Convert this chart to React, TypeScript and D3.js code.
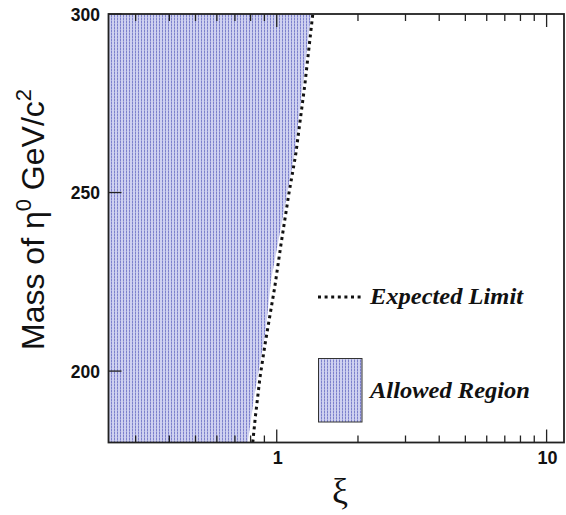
import React from "react";
import * as d3 from "d3";

// Expected limit curve (mass in GeV/c^2, xi)
const limitMass = [180, 187.1, 198.3, 207.5, 223.5, 235.5, 249.5, 260.7, 280, 300];
const limitXi = [0.815, 0.833, 0.867, 0.905, 0.983, 1.037, 1.108, 1.176, 1.27, 1.36];

// Allowed region right boundary
const allowedMass = [180, 192.7, 211.4, 225.4, 260.7, 300];
const allowedXi = [0.781, 0.824, 0.91, 0.952, 1.164, 1.34];

const xMajorTicks = [1, 10];
const xMinorTicks = [0.3, 0.4, 0.5, 0.6, 0.7, 0.8, 0.9, 2, 3, 4, 5, 6, 7, 8, 9];
const yTicks = [200, 250, 300];

const W = 566;
const H = 515;
const left = 108.5;
const right = 564;
const top = 14;
const bottom = 442.5;

export default function App() {
  const x = d3.scaleLog().domain([0.238, 11.6]).range([left, right]);
  const y = d3.scaleLinear().domain([180, 300]).range([bottom, top]);

  const limitPts: [number, number][] = limitMass.map((m, i) => [x(limitXi[i]), y(m)]);
  const line = d3.line<[number, number]>().x((d) => d[0]).y((d) => d[1]);

  const allowPts: [number, number][] = allowedMass.map((m, i) => [x(allowedXi[i]), y(m)]);
  const area = d3
    .area<[number, number]>()
    .y((d) => d[1])
    .x0(left)
    .x1((d) => d[0]);

  const font = "'Liberation Sans', Arial, Helvetica, sans-serif";
  const serif = "'Liberation Serif', 'Times New Roman', serif";

  return (
    <svg
      width={W}
      height={H}
      style={{ position: "absolute", left: 0, top: 0, background: "#fff" }}
    >
      <defs>
        <pattern id="hatch" width={3} height={3} patternUnits="userSpaceOnUse">
          <rect width={3} height={3} fill="#cfd1f0" />
          <rect x={0} y={0} width={1} height={2} fill="#7d81cc" />
          <rect x={0} y={2} width={1} height={1} fill="#a5a8de" />
        </pattern>
        <clipPath id="plotclip">
          <rect x={left} y={top} width={right - left} height={bottom - top} />
        </clipPath>
      </defs>

      <g clipPath="url(#plotclip)">
        <path d={area(allowPts) || ""} fill="url(#hatch)" />
        <path
          d={line(limitPts) || ""}
          fill="none"
          stroke="#111"
          strokeWidth={3}
          strokeDasharray="3 3.6"
        />
      </g>

      {/* frame */}
      <rect
        x={left}
        y={top}
        width={right - left}
        height={bottom - top}
        fill="none"
        stroke="#222"
        strokeWidth={1.8}
      />

      {/* x ticks */}
      {xMajorTicks.map((t) => (
        <g key={"M" + t}>
          <line x1={x(t)} x2={x(t)} y1={bottom} y2={bottom - 13} stroke="#222" strokeWidth={1.3} />
          <line x1={x(t)} x2={x(t)} y1={top} y2={top + 13} stroke="#222" strokeWidth={1.3} />
          <text
            x={x(t) + 1}
            y={464}
            textAnchor="middle"
            fontFamily={font}
            fontWeight="bold"
            fontSize={18}
            fill="#111"
          >
            {t}
          </text>
        </g>
      ))}
      {xMinorTicks.map((t) => (
        <g key={"m" + t}>
          <line x1={x(t)} x2={x(t)} y1={bottom} y2={bottom - 7} stroke="#222" strokeWidth={1.3} />
          <line x1={x(t)} x2={x(t)} y1={top} y2={top + 7} stroke="#222" strokeWidth={1.3} />
        </g>
      ))}

      {/* y ticks */}
      {yTicks.map((t) => (
        <g key={"y" + t}>
          <line x1={left} x2={left + 13} y1={y(t)} y2={y(t)} stroke="#222" strokeWidth={1.3} />
          <text
            x={100}
            y={y(t) + 6.5}
            textAnchor="end"
            fontFamily={font}
            fontWeight="bold"
            fontSize={17.5}
            fill="#111"
          >
            {t}
          </text>
        </g>
      ))}

      {/* y title */}
      <text
        transform="translate(44,350) rotate(-90)"
        fontFamily={font}
        fontSize={32}
        fill="#111"
      >
        Mass of η
        <tspan fontSize={22} dy={-13}>0</tspan>
        <tspan dy={13}> GeV/c</tspan>
        <tspan fontSize={22} dy={-13}>2</tspan>
      </text>

      {/* x title */}
      <text x={340} y={503} textAnchor="middle" fontFamily={serif} fontSize={36} fill="#111">
        ξ
      </text>

      {/* legend */}
      <line
        x1={318}
        x2={361}
        y1={297}
        y2={297}
        stroke="#111"
        strokeWidth={3}
        strokeDasharray="3 3.6"
      />
      <text
        x={370}
        y={304}
        fontFamily={serif}
        fontStyle="italic"
        fontWeight="bold"
        fontSize={23}
        textLength={153}
        lengthAdjust="spacingAndGlyphs"
        fill="#111"
      >
        Expected Limit
      </text>
      <rect x={318.5} y={358.5} width={43.5} height={63.5} fill="url(#hatch)" stroke="#333" strokeWidth={1} />
      <text
        x={370}
        y={397.5}
        fontFamily={serif}
        fontStyle="italic"
        fontWeight="bold"
        fontSize={23}
        textLength={160}
        lengthAdjust="spacingAndGlyphs"
        fill="#111"
      >
        Allowed Region
      </text>
    </svg>
  );
}
